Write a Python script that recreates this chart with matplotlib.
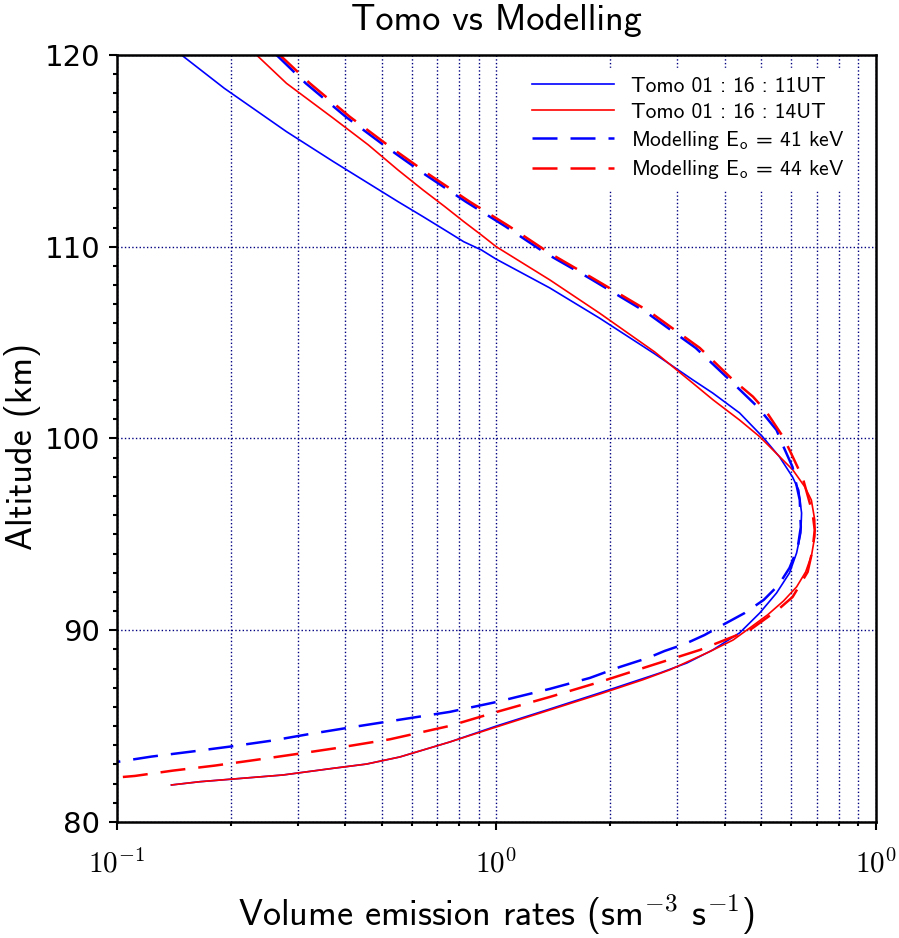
import matplotlib
matplotlib.use("Agg")
import matplotlib.pyplot as plt
import numpy as np
from matplotlib.ticker import FixedLocator, FixedFormatter, LogLocator, MultipleLocator, NullFormatter

plt.rcParams["mathtext.fontset"] = "cm"
plt.rcParams["font.family"] = "DejaVu Sans"
SANS = "cmss10"

# Tomo 01:16:11UT (blue solid)
tomo11_ver = [0.148, 0.192, 0.280, 0.372, 0.460, 0.551, 0.641, 0.732, 0.821, 0.914, 1.00, 1.384,
              1.874, 2.617, 3.30, 3.72, 4.38, 5.04, 5.58, 6.04, 6.27, 6.38, 6.35, 6.19, 5.93,
              5.48, 4.95, 4.38, 3.72, 3.18, 2.70, 1.874, 1.384, 1.003, 0.754, 0.557, 0.455,
              0.372, 0.274, 0.2025, 0.1655, 0.1393]
tomo11_alt = [120.0, 118.26, 116.0, 114.44, 113.31, 112.35, 111.57, 110.87, 110.26, 109.83, 109.35, 107.85,
              106.27, 104.41, 103.05, 102.37, 101.33, 100.08, 99.04, 97.99, 97.31, 96.11, 95.07, 94.03, 92.99,
              91.94, 90.90, 89.86, 88.97, 88.29, 87.77, 86.73, 85.89, 85.01, 84.17, 83.39, 83.02,
              82.80, 82.45, 82.24, 82.10, 81.93]

# Tomo 01:16:14UT (red solid)
tomo14_ver = [0.2334, 0.280, 0.372, 0.460, 0.551, 0.641, 0.732, 0.821, 0.914, 1.00, 1.384, 1.874,
              2.617, 3.30, 3.73, 4.38, 4.95, 5.47, 6.05, 6.50, 6.77, 6.91, 6.91, 6.78, 6.54,
              6.19, 5.72, 5.19, 4.66, 4.21, 3.65, 2.865, 2.43, 1.874, 1.384, 1.003, 0.754, 0.557,
              0.455, 0.372, 0.274, 0.2025, 0.1655, 0.1393]
tomo14_alt = [120.0, 118.52, 116.70, 115.31, 114.0, 112.96, 112.09, 111.31, 110.61, 110.0, 108.27, 106.53,
              104.51, 102.88, 102.01, 100.96, 100.09, 99.23, 98.36, 97.49, 96.79, 95.75, 94.88, 93.92, 93.04,
              92.26, 91.53, 90.80, 90.12, 89.49, 88.88, 87.93, 87.41, 86.67, 85.84, 84.96, 84.17, 83.39,
              83.02, 82.80, 82.45, 82.24, 82.10, 81.93]

# Modelling Eo = 41 keV (blue dashed)
model41_ver = [0.2635, 0.3148, 0.401, 0.5115, 0.652, 0.831, 1.059, 1.35, 1.764, 2.477, 3.356,
               4.125, 4.89, 5.48, 5.69, 6.04, 6.31, 6.35, 6.23, 5.93, 5.55, 5.07, 4.52, 4.00,
               3.54, 3.14, 2.78, 2.507, 2.115, 1.764, 1.384, 1.003, 0.754, 0.535, 0.4153, 0.3227,
               0.2557, 0.1985, 0.1573, 0.1234, 0.100]
model41_alt = [120.0, 118.52, 116.78, 115.22, 113.74, 112.35, 111.05, 109.66, 108.35, 106.60, 104.72,
               103.05, 101.64, 100.44, 99.66, 98.51, 96.79, 95.38, 94.29, 93.25, 92.36, 91.58, 90.90, 90.33,
               89.75, 89.28, 88.92, 88.55, 88.08, 87.51, 86.94, 86.26, 85.74, 85.28, 84.94, 84.59,
               84.24, 83.93, 83.67, 83.41, 83.13]

# Modelling Eo = 44 keV (red dashed)
model44_ver = [0.2688, 0.3227, 0.411, 0.524, 0.668, 0.851, 1.085, 1.384, 1.80, 2.54, 3.44,
               4.21, 4.75, 5.15, 5.70, 5.93, 6.43, 6.82, 6.91, 6.82, 6.62, 6.04, 5.52, 4.66,
               3.44, 2.54, 1.874, 1.384, 1.003, 0.754, 0.524, 0.3753, 0.2944, 0.231, 0.1812,
               0.1407, 0.1115, 0.100]
model44_alt = [120.0, 118.52, 116.78, 115.22, 113.74, 112.35, 111.05, 109.66, 108.35, 106.60, 104.72,
               103.05, 102.18, 101.40, 100.09, 99.40, 97.92, 96.11, 95.23, 94.19, 93.04, 91.73, 91.06, 90.01,
               88.97, 88.14, 87.30, 86.52, 85.74, 85.01, 84.31, 83.84, 83.53, 83.23, 82.94,
               82.68, 82.40, 82.32]

labels = ["Tomo 01 : 16 : 11UT",
          "Tomo 01 : 16 : 14UT",
          r"Modelling E$_{\mathsf{o}}$ = 41 keV",
          r"Modelling E$_{\mathsf{o}}$ = 44 keV"]
x_tick_vals = [0.1, 1.0, 10.0]
x_tick_labels = [r"$10^{-1}$", r"$10^{0}$", r"$10^{0}$"]

fig = plt.figure(figsize=(8.99, 9.38), dpi=100)
ax = fig.add_axes([0.130, 0.1237, 0.844, 0.8177])

ax.plot(tomo11_ver, tomo11_alt, color="#0000ff", lw=1.2, label=labels[0])
ax.plot(tomo14_ver, tomo14_alt, color="#ff0000", lw=1.2, label=labels[1])
ax.plot(model41_ver, model41_alt, color="#0000ff", lw=1.8, dashes=(10, 5.2), label=labels[2])
ax.plot(model44_ver, model44_alt, color="#ff0000", lw=1.8, dashes=(10, 5.2), label=labels[3])

ax.set_xscale("log")
ax.set_xlim(0.1, 10)
ax.set_ylim(80, 120)

ax.xaxis.set_major_locator(FixedLocator(x_tick_vals))
ax.xaxis.set_major_formatter(FixedFormatter(x_tick_labels))
ax.xaxis.set_minor_locator(LogLocator(base=10, subs=np.arange(2, 10)))
ax.xaxis.set_minor_formatter(NullFormatter())
ax.yaxis.set_major_locator(MultipleLocator(10))
ax.yaxis.set_minor_locator(MultipleLocator(1))

ax.grid(True, axis="x", which="both", color="#000080", ls=":", lw=1.0)
ax.grid(True, axis="y", which="major", color="#000080", ls=":", lw=1.0)
ax.set_axisbelow(True)

ax.tick_params(axis="both", which="major", direction="out", length=6, width=1.5, labelsize=21)
ax.tick_params(axis="x", which="major", pad=14)
ax.tick_params(axis="y", which="major", pad=6)
ax.tick_params(axis="both", which="minor", direction="out", length=3, width=1.5)
for spine in ax.spines.values():
    spine.set_linewidth(1.8)

ax.set_title("Tomo vs Modelling", fontsize=26, fontfamily=SANS, pad=18)
ax.set_xlabel(r"Volume emission rates (sm$^{\mathsf{-3}}$ s$^{\mathsf{-1}}$)",
              fontsize=26, fontfamily=SANS, labelpad=10)
ax.set_ylabel("Altitude (km)", fontsize=26, fontfamily=SANS)
ax.yaxis.set_label_coords(-0.100, 0.49)

leg = ax.legend(loc="upper right", bbox_to_anchor=(0.984, 0.997), handlelength=3.8,
                handletextpad=0.8, labelspacing=0.32, frameon=True, facecolor="white",
                edgecolor="white", framealpha=1.0, fancybox=False, borderaxespad=0.5,
                prop={"family": SANS, "size": 15.5})

fig.savefig("out.png", dpi=100)
